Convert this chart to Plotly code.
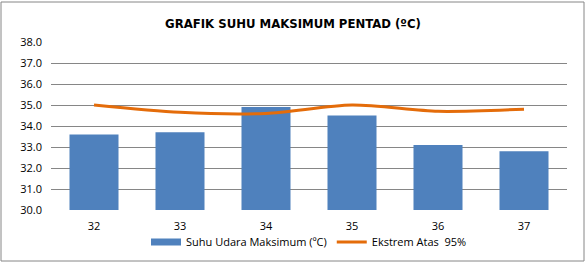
import plotly.graph_objects as go

categories = ["32", "33", "34", "35", "36", "37"]
suhu_maks = [33.6, 33.7, 34.9, 34.5, 33.1, 32.8]
ekstrem_atas = [35.0, 34.65, 34.6, 35.0, 34.7, 34.8]
y_ticks = [30.0, 31.0, 32.0, 33.0, 34.0, 35.0, 36.0, 37.0, 38.0]

font_main = "'Open Sans', 'Liberation Sans', sans-serif"
bar_color = "#4F81BD"
line_color = "#E46C0A"

fig = go.Figure()
fig.add_trace(go.Bar(
    x=categories, y=suhu_maks, name="Suhu Udara Maksimum (ºC)",
    marker=dict(color=bar_color, line=dict(width=0)), showlegend=False,
))
# legend entry for the bars (wide rectangular swatch)
fig.add_trace(go.Scatter(
    x=[None], y=[None], name="Suhu Udara Maksimum (ºC)", mode="lines",
    line=dict(color=bar_color, width=7),
))
fig.add_trace(go.Scatter(
    x=categories, y=ekstrem_atas, name="Ekstrem Atas  95%", mode="lines",
    line=dict(color=line_color, width=3, shape="spline", smoothing=0.8),
))

fig.update_layout(
    width=586, height=263,
    margin=dict(l=51, r=19, t=42, b=53, autoexpand=False),
    paper_bgcolor="white", plot_bgcolor="white",
    bargap=0.43,
    showlegend=True,
    title=dict(
        text="<b>GRAFIK SUHU MAKSIMUM PENTAD (ºC)</b>",
        x=0.5, xanchor="center", y=1 - 23 / 263, yanchor="middle",
        font=dict(family="'DejaVu Sans Condensed', 'Liberation Sans Narrow', sans-serif", size=13, color="#000000"),
    ),
    legend=dict(
        orientation="h", x=0.5, xanchor="center",
        yref="container", y=1 - 242 / 263, yanchor="middle",
        font=dict(family=font_main, size=11, color="#000000"),
        itemwidth=30, bgcolor="rgba(0,0,0,0)", tracegroupgap=0,
    ),
    xaxis=dict(
        type="category", showgrid=False, showline=False, ticks="",
        ticklabelstandoff=8, automargin=False,
        tickfont=dict(family=font_main, size=11, color="#000000"),
    ),
    yaxis=dict(
        range=[30, 38], tickvals=y_ticks, ticktext=[f"{v:.1f}" for v in y_ticks],
        showgrid=True, gridcolor="#868686", gridwidth=1,
        zeroline=False, showline=False, ticks="",
        ticklabelstandoff=8, automargin=False,
        tickfont=dict(family=font_main, size=11, color="#000000"),
    ),
    shapes=[dict(
        type="rect", xref="paper", yref="paper",
        x0=(1 - 51) / 516, x1=(584 - 51) / 516,
        y0=(210 - 261) / 168, y1=(210 - 2) / 168,
        line=dict(color="#868686", width=1), fillcolor="rgba(0,0,0,0)", layer="below",
    )],
)

fig.write_html("out.html")
